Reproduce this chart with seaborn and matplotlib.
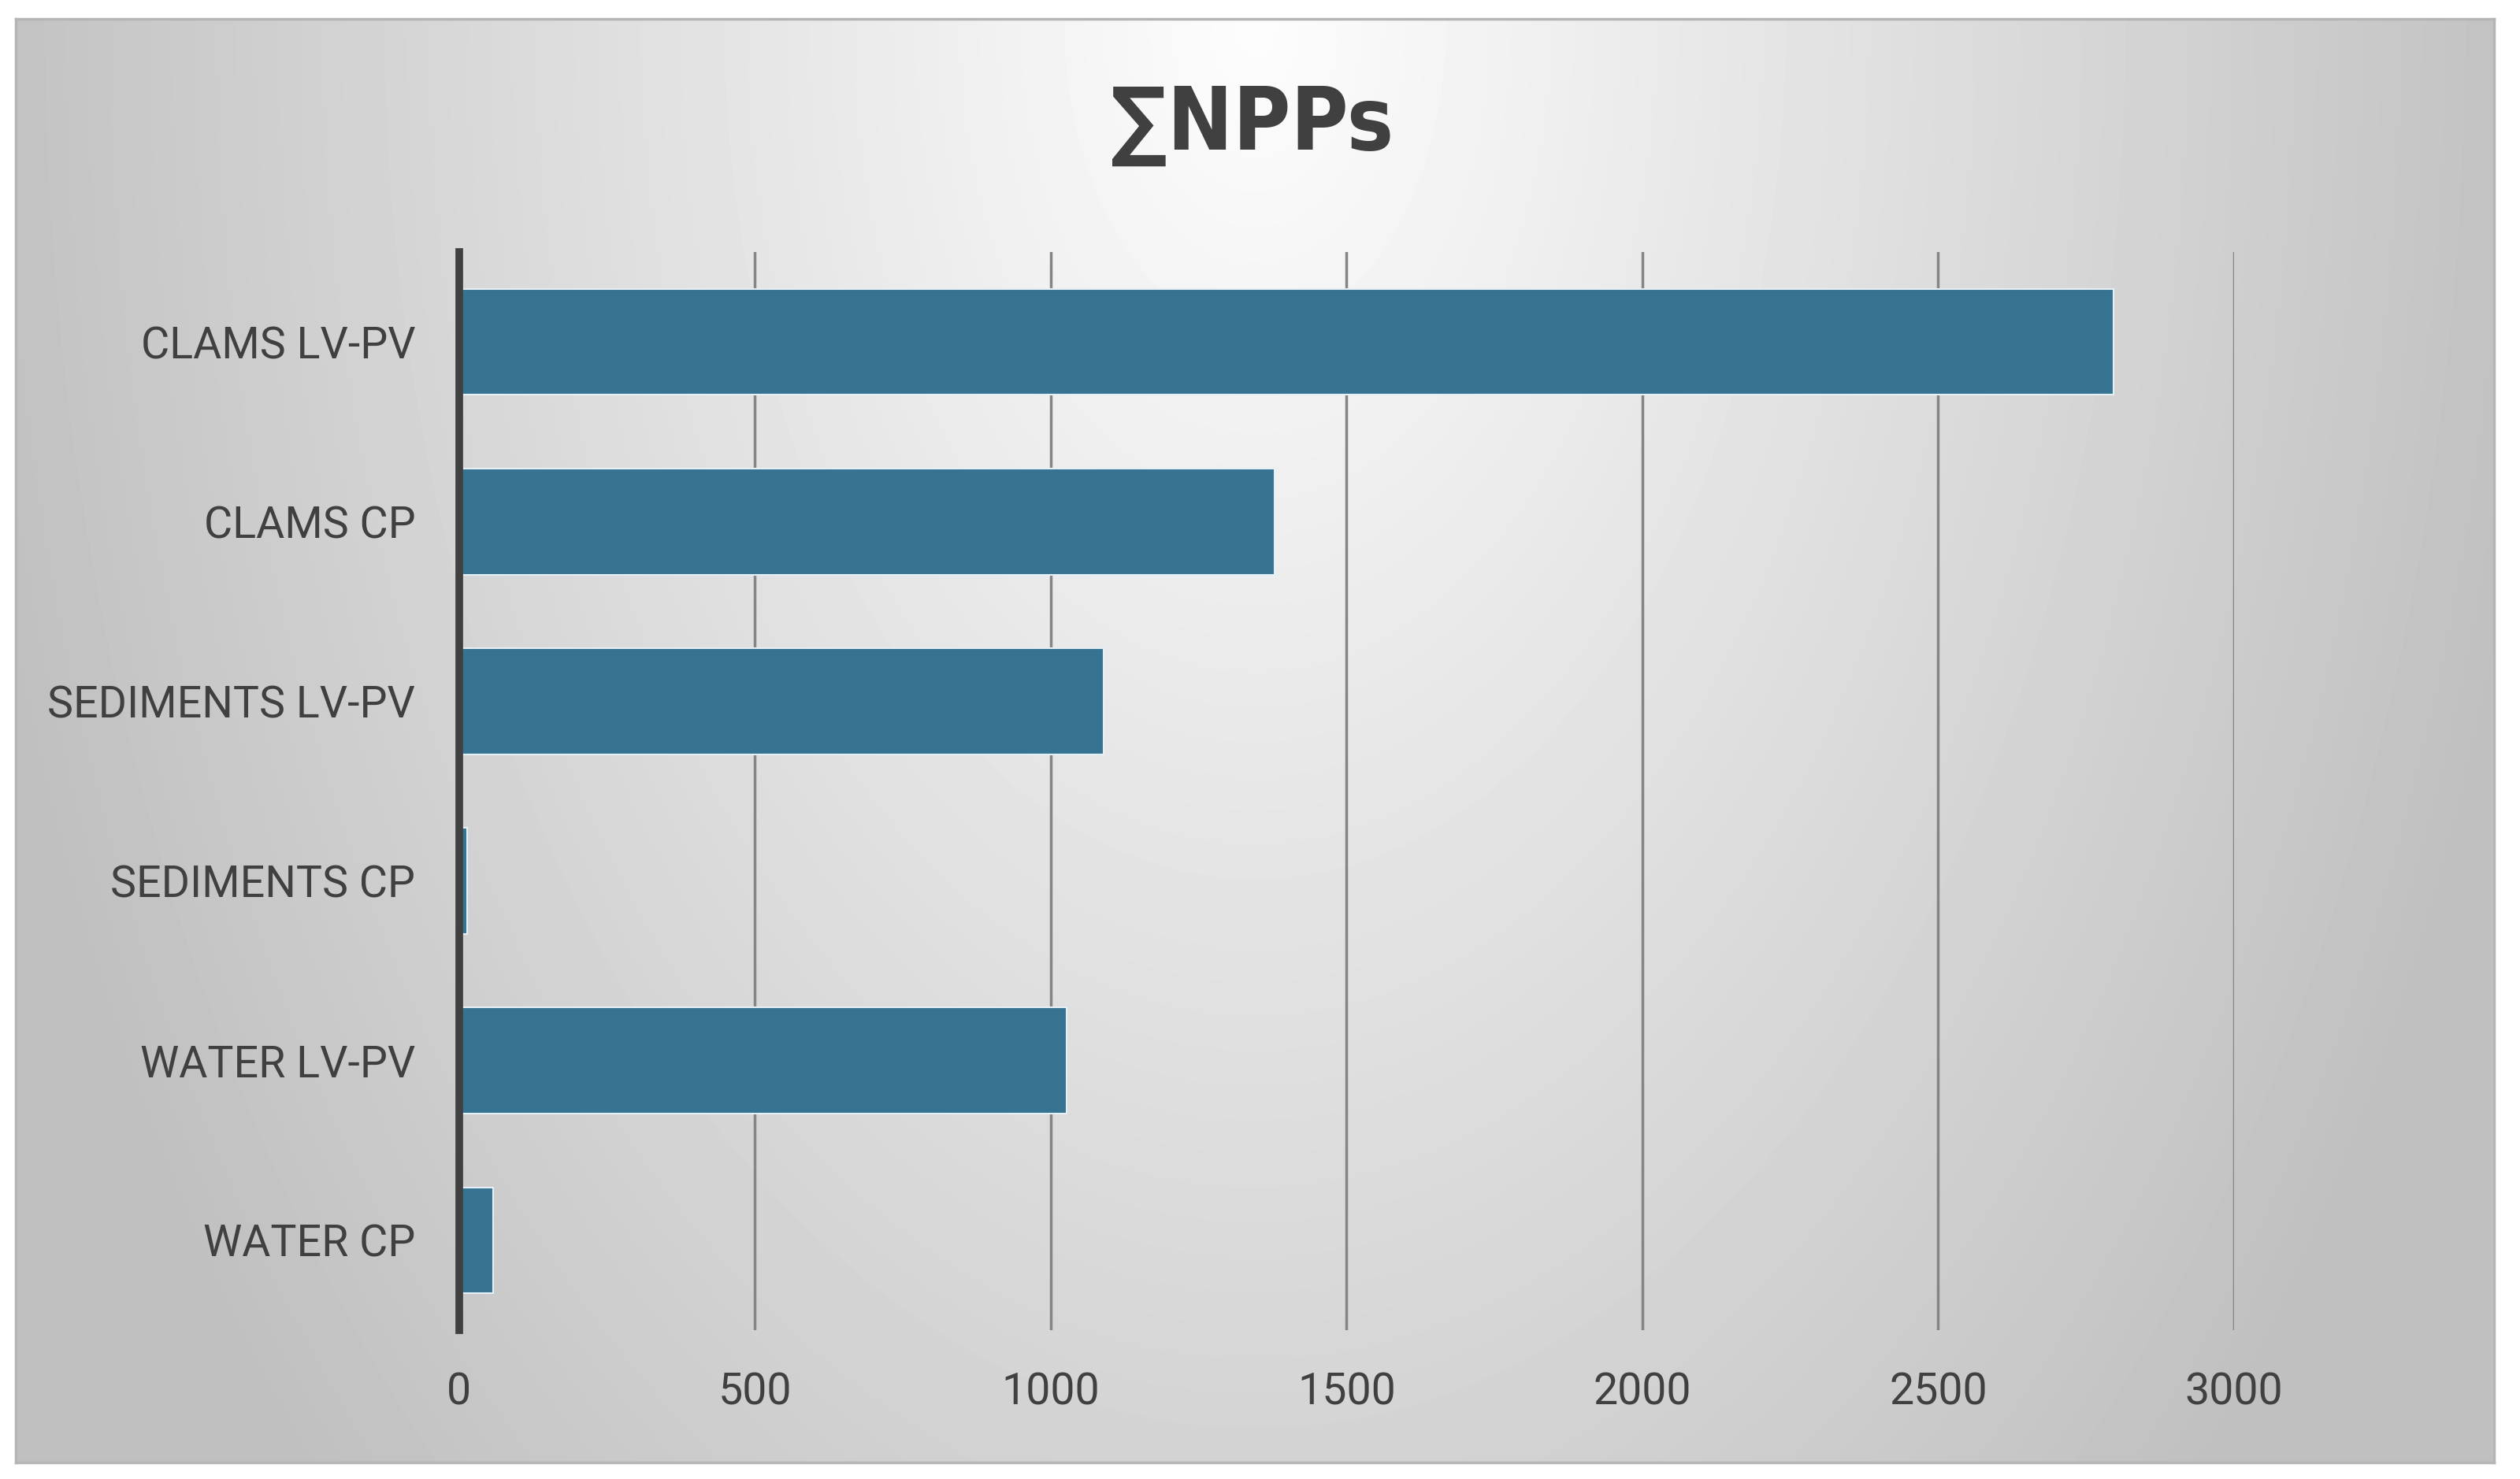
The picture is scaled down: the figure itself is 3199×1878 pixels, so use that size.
import numpy as np
import pandas as pd
import matplotlib
matplotlib.use("Agg")
import matplotlib.pyplot as plt
import seaborn as sns

# data
categories = ["CLAMS LV-PV", "CLAMS CP", "SEDIMENTS LV-PV",
              "SEDIMENTS CP", "WATER LV-PV", "WATER CP"]
values = [2797, 1378, 1090, 14, 1027, 57]
x_ticks = [0, 500, 1000, 1500, 2000, 2500, 3000]
title = "∑NPPs"

df = pd.DataFrame({"group": categories, "npps": values})

sns.set_style("white")
plt.rcParams["font.family"] = ["Roboto", "DejaVu Sans"]

text_col = "#404040"
bar_col = "#357391"

fig = plt.figure(figsize=(31.99, 18.78), dpi=100)
fig.patch.set_facecolor("white")

# gradient panel behind the chart
bg = fig.add_axes([0.00625, 0.0112, 0.9835, 0.976])
xx, yy = np.meshgrid(np.linspace(-1, 1, 400), np.linspace(0, 1, 300))
r = np.sqrt(xx ** 2 + (0.72 * yy) ** 2)
shade = np.clip(253 - 58 * r, 192, 253) / 255.0
bg.imshow(shade, cmap="gray", vmin=0, vmax=1, aspect="auto",
          extent=[0, 1, 0, 1], origin="upper", interpolation="bilinear")
bg.set_xlim(0, 1)
bg.set_ylim(0, 1)
bg.set_xticks([])
bg.set_yticks([])
for s in bg.spines.values():
    s.set_color("#b5b5b5")
    s.set_linewidth(2.5)

# main chart
ax = fig.add_axes([0.1822, 0.1006, 0.7043, 0.729])
ax.patch.set_alpha(0)
sns.barplot(data=df, x="npps", y="group", orient="h", color=bar_col,
            width=0.59, saturation=1, edgecolor="#e4f0f6", linewidth=1.5,
            ax=ax, zorder=3)

ax.set_xlim(0, 3000)
ax.set_ylim(5.5, -0.5)
ax.set_xticks(x_ticks)
ax.set_xticklabels([str(t) for t in x_ticks])
ax.grid(axis="x", color="#858585", linewidth=2.5, zorder=0)
ax.set_axisbelow(True)

for side in ["top", "right", "bottom"]:
    ax.spines[side].set_visible(False)
ax.spines["left"].set_color(text_col)
ax.spines["left"].set_linewidth(7)
ax.spines["left"].set_zorder(5)

ax.tick_params(axis="both", length=0, labelsize=40, labelcolor=text_col)
ax.tick_params(axis="y", pad=40)
ax.tick_params(axis="x", pad=38)
ax.set_xlabel("")
ax.set_ylabel("")

fig.text(0.497, 0.915, title, ha="center", va="center", fontsize=80,
         fontweight="bold", fontstretch="condensed", color=text_col,
         family=["DejaVu Sans"])

fig.savefig("out.png", dpi=100)
